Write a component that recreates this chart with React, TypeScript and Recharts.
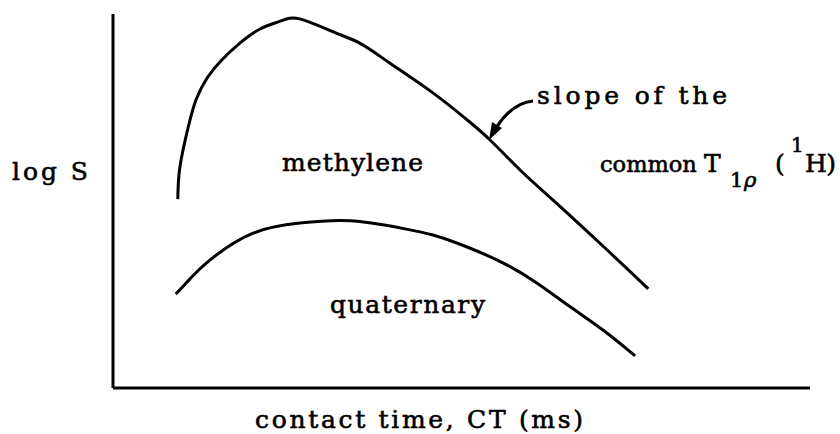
import { LineChart, Line, XAxis, YAxis, Customized } from "recharts";

// methylene signal vs contact time (arbitrary units)
const methyleneCT = [0.93, 0.96, 1.08, 1.19, 1.35, 1.56, 1.82, 2.11, 2.4, 2.68, 3.16, 3.54, 3.97, 4.59, 5.08, 5.41, 5.84, 6.31, 7.09, 7.68];
const methyleneLogS = [5.05, 5.91, 6.98, 7.7, 8.29, 8.77, 9.22, 9.6, 9.81, 9.87, 9.52, 9.22, 8.69, 7.89, 7.17, 6.63, 5.83, 5.03, 3.69, 2.65];

// quaternary carbon signal
const quaternaryCT = [0.9, 1.06, 1.39, 2.01, 2.68, 3.4, 4.12, 4.59, 5.08, 5.6, 6.08, 6.56, 7.03, 7.49];
const quaternaryLogS = [2.51, 2.83, 3.42, 4.14, 4.41, 4.47, 4.28, 4.09, 3.77, 3.34, 2.81, 2.17, 1.55, 0.86];

const methylene = methyleneCT.map((ct, i) => ({ ct, logS: methyleneLogS[i] }));
const quaternary = quaternaryCT.map((ct, i) => ({ ct, logS: quaternaryLogS[i] }));

const FONT = "DejaVu Serif, Liberation Serif, serif";

function Annotations() {
  const txt = {
    fontFamily: FONT,
    fontSize: 25,
    fill: "#000",
    stroke: "#000",
    strokeWidth: 0.6,
    lengthAdjust: "spacing",
  };
  return (
    <g>
      <text x={12} y={180} textLength={76} {...txt}>log S</text>
      <text x={282} y={171} textLength={141} {...txt}>methylene</text>
      <text x={330} y={313} textLength={155} {...txt}>quaternary</text>
      <text x={537} y={104} textLength={190} {...txt}>slope of the</text>
      <text x={600} y={172} {...txt} fontSize={22.5}>common</text>
      <text x={704} y={172} {...txt}>T</text>
      <text x={730} y={187} {...txt} fontSize={21}>1</text>
      <text x={744} y={187} {...txt} fontSize={21} fontStyle="italic">ρ</text>
      <text x={775} y={172} {...txt}>(</text>
      <text x={791} y={152} {...txt} fontSize={20}>1</text>
      <text x={805} y={172} textLength={31} {...txt}>H)</text>
      <text x={255} y={428} textLength={328} {...txt}>contact time, CT (ms)</text>
      {/* pointer to the methylene decay */}
      <path d="M533,101 Q512,103 496,128" stroke="#000" strokeWidth={3} fill="none" />
      <polygon points="489,140 492,122 502,128" fill="#000" />
    </g>
  );
}

export default function App() {
  return (
    <div style={{ width: 840, height: 434, background: "#fff" }}>
      <style>{`body{margin:0}`}</style>
      <LineChart
        width={840}
        height={434}
        margin={{ top: 14, right: 30, left: 103, bottom: 36 }}
      >
        <XAxis
          type="number"
          dataKey="ct"
          domain={[0, 10]}
          height={10}
          tick={false}
          tickLine={false}
          axisLine={{ stroke: "#000", strokeWidth: 3 }}
        />
        <YAxis
          type="number"
          dataKey="logS"
          domain={[0, 10]}
          width={10}
          tick={false}
          tickLine={false}
          axisLine={{ stroke: "#000", strokeWidth: 3 }}
        />
        <Line
          data={methylene}
          dataKey="logS"
          type="natural"
          stroke="#000"
          strokeWidth={3}
          dot={false}
          isAnimationActive={false}
        />
        <Line
          data={quaternary}
          dataKey="logS"
          type="natural"
          stroke="#000"
          strokeWidth={3}
          dot={false}
          isAnimationActive={false}
        />
        <Customized component={Annotations} />
      </LineChart>
    </div>
  );
}
